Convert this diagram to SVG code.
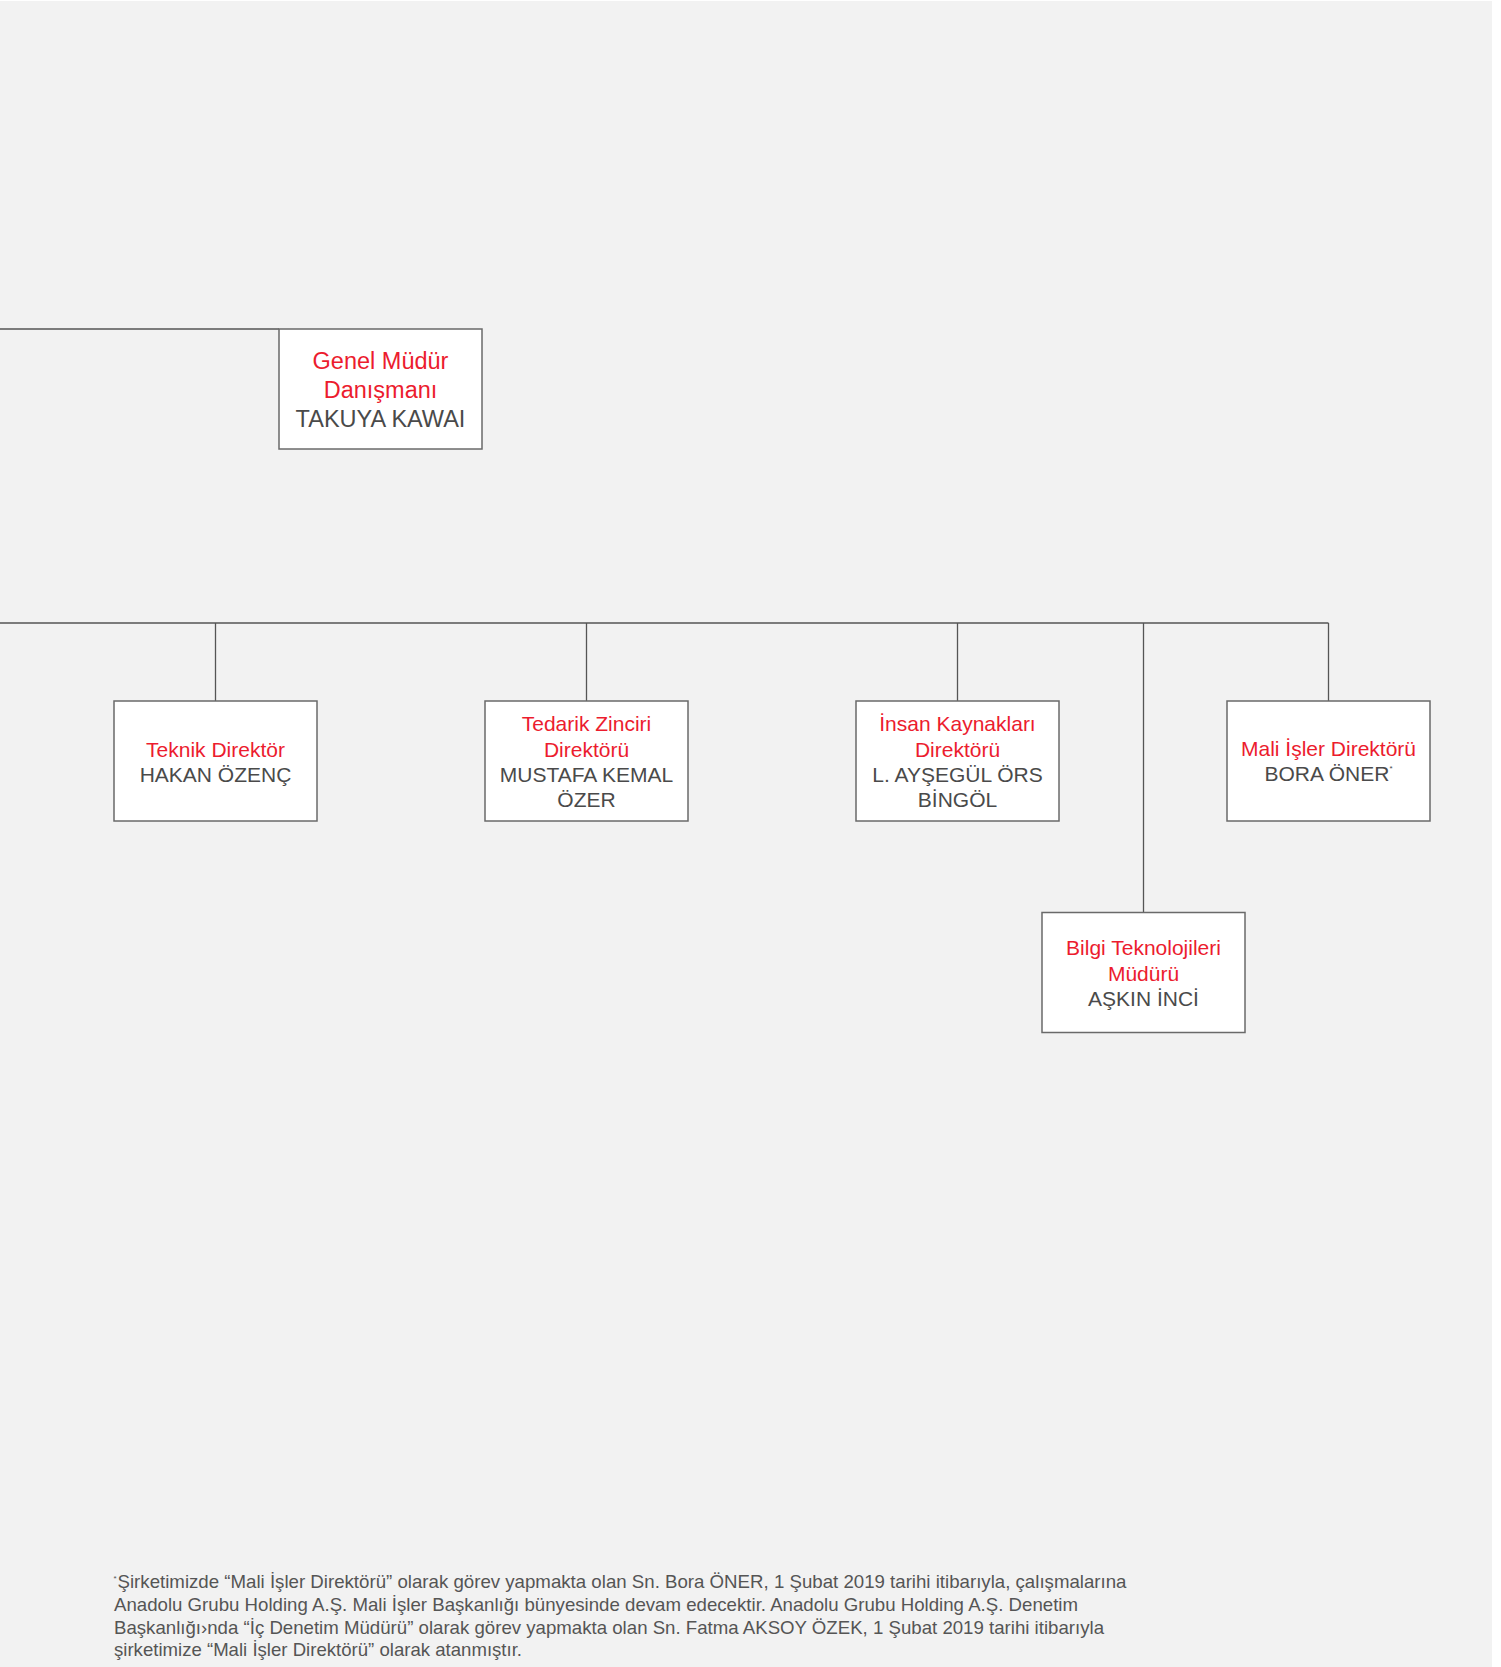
<svg xmlns="http://www.w3.org/2000/svg" width="1501" height="1667" viewBox="0 0 1501 1667">
<style>
.bg{fill:#f2f2f2}
.box{fill:#ffffff;stroke:#6a6a6a;stroke-width:1.5}
.ln{stroke:#555555;stroke-width:1.3;fill:none}
.t{font-family:"Liberation Sans",Arial,sans-serif;text-anchor:middle}
.r{fill:#ec1c2e}
.g{fill:#4a4a4a}
.s21{font-size:21px}
.s23{font-size:23.5px}
.fn{font-family:"Liberation Sans",Arial,sans-serif;font-size:18.5px;fill:#555555}
.sup{font-size:8px}
</style>
<rect x="0" y="0" width="1501" height="1667" fill="#ffffff"/>
<rect class="bg" x="0" y="1" width="1492" height="1666"/>
<g id="connectors">
<line class="ln" x1="0" y1="329" x2="279" y2="329"/>
<line class="ln" x1="0" y1="623" x2="1328.5" y2="623"/>
<line class="ln" x1="215.5" y1="623" x2="215.5" y2="701"/>
<line class="ln" x1="586.5" y1="623" x2="586.5" y2="701"/>
<line class="ln" x1="957.5" y1="623" x2="957.5" y2="701"/>
<line class="ln" x1="1143.5" y1="623" x2="1143.5" y2="912.5"/>
<line class="ln" x1="1328.5" y1="623" x2="1328.5" y2="701"/>
</g>
<g id="genel-mudur-danismani">
<rect class="box" x="279" y="329" width="203" height="120"/>
<text class="t s23 r" x="380.5" y="369">Genel Müdür</text>
<text class="t s23 r" x="380.5" y="398">Danışmanı</text>
<text class="t s23 g" x="380.5" y="427">TAKUYA KAWAI</text>
</g>
<g id="teknik-direktor">
<rect class="box" x="114" y="701" width="203" height="120"/>
<text class="t s21 r" x="215.5" y="757">Teknik Direktör</text>
<text class="t s21 g" x="215.5" y="782">HAKAN ÖZENÇ</text>
</g>
<g id="tedarik-zinciri-direktoru">
<rect class="box" x="485" y="701" width="203" height="120"/>
<text class="t s21 r" x="586.5" y="731.3">Tedarik Zinciri</text>
<text class="t s21 r" x="586.5" y="756.7">Direktörü</text>
<text class="t s21 g" x="586.5" y="782">MUSTAFA KEMAL</text>
<text class="t s21 g" x="586.5" y="807.3">ÖZER</text>
</g>
<g id="insan-kaynaklari-direktoru">
<rect class="box" x="856" y="701" width="203" height="120"/>
<text class="t s21 r" x="957.5" y="731.3">İnsan Kaynakları</text>
<text class="t s21 r" x="957.5" y="756.7">Direktörü</text>
<text class="t s21 g" x="957.5" y="782">L. AYŞEGÜL ÖRS</text>
<text class="t s21 g" x="957.5" y="807.3">BİNGÖL</text>
</g>
<g id="mali-isler-direktoru">
<rect class="box" x="1227" y="701" width="203" height="120"/>
<text class="t s21 r" x="1328.5" y="756">Mali İşler Direktörü</text>
<text class="t s21 g" x="1328.5" y="781">BORA ÖNER<tspan class="sup" dy="-10">*</tspan></text>
</g>
<g id="bilgi-teknolojileri-muduru">
<rect class="box" x="1042" y="912.5" width="203" height="120"/>
<text class="t s21 r" x="1143.5" y="955">Bilgi Teknolojileri</text>
<text class="t s21 r" x="1143.5" y="980.5">Müdürü</text>
<text class="t s21 g" x="1143.5" y="1006">AŞKIN İNCİ</text>
</g>
<g id="footnote">
<text class="fn sup" x="113.5" y="1581" style="font-size:8px">*</text>
<text class="fn" x="117.5" y="1588" textLength="1009" lengthAdjust="spacingAndGlyphs">Şirketimizde “Mali İşler Direktörü” olarak görev yapmakta olan Sn. Bora ÖNER, 1 Şubat 2019 tarihi itibarıyla, çalışmalarına</text>
<text class="fn" x="114" y="1611" textLength="964" lengthAdjust="spacingAndGlyphs">Anadolu Grubu Holding A.Ş. Mali İşler Başkanlığı bünyesinde devam edecektir. Anadolu Grubu Holding A.Ş. Denetim</text>
<text class="fn" x="114" y="1633.5" textLength="990" lengthAdjust="spacingAndGlyphs">Başkanlığı›nda “İç Denetim Müdürü” olarak görev yapmakta olan Sn. Fatma AKSOY ÖZEK, 1 Şubat 2019 tarihi itibarıyla</text>
<text class="fn" x="114" y="1656" textLength="408" lengthAdjust="spacingAndGlyphs">şirketimize “Mali İşler Direktörü” olarak atanmıştır.</text>
</g>
</svg>
